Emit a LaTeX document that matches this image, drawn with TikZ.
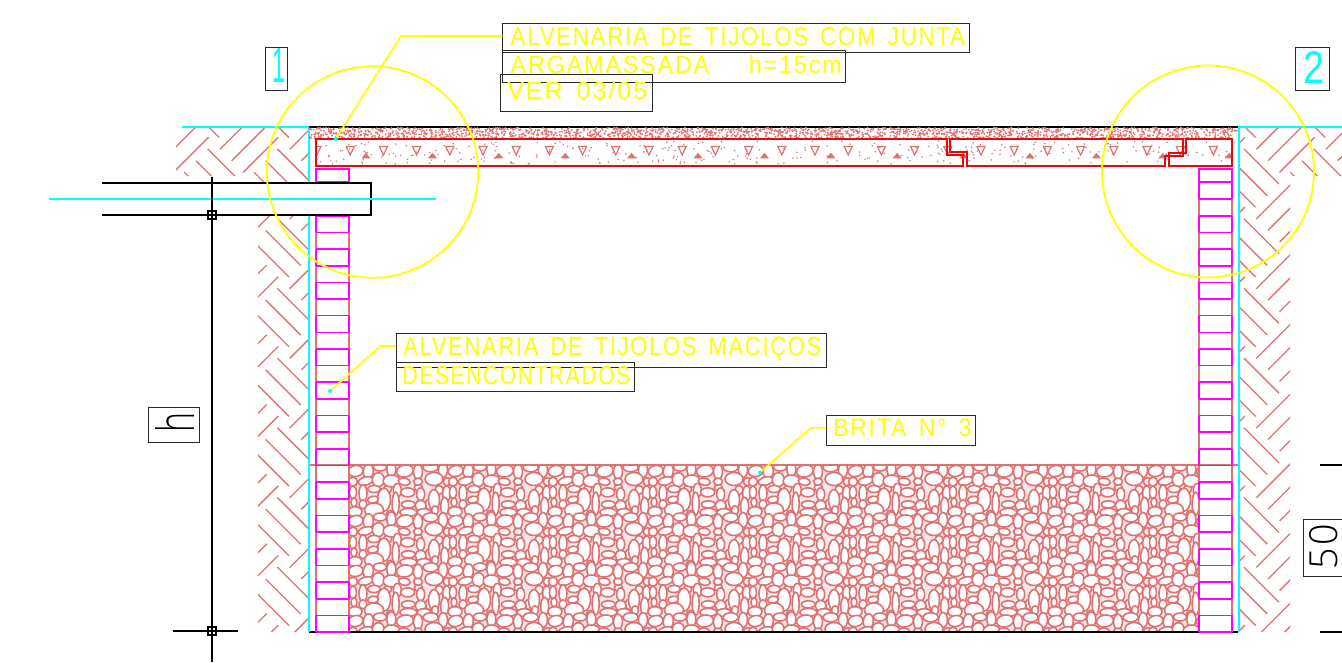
\documentclass[tikz,border=0pt]{standalone}
\usepackage{fontspec}
\usepackage{graphicx}
\newfontfamily\cadfont[LetterSpace=8]{Liberation Sans}
\newfontfamily\cadthin[LetterSpace=8]{Open Sans Light}
\definecolor{hatchc}{HTML}{DE7272}
\definecolor{meshc}{HTML}{FAE6E6}
\definecolor{cadyellow}{HTML}{FFFF00}
\definecolor{cadcyan}{HTML}{00FFFF}
\definecolor{cadmag}{HTML}{FF00FF}
\definecolor{cadred}{HTML}{E8090F}
\definecolor{boxc}{HTML}{2A2A2A}
\newcommand{\herringset}{%
  \foreach \ix in {-1,0,1,2}{\foreach \iy in {-2,...,8}{%
    \foreach \sx/\sy in {220/149.3,231.7/160.7,243.3/172.3}{%
      \draw[earth] ({\sx+\ix*69.7},{\sy+\iy*69.7}) -- ++(35,-35);}
    \foreach \sx/\sy in {207.7/149,196/160.7,184.3/172.3}{%
      \draw[earth] ({\sx+\ix*69.7},{\sy+\iy*69.7}) -- ++(35,35);}
  }}}
\newcommand{\brickwall}[1]{%
  \begin{scope}[shift={(#1,0)}]
  \foreach \k in {1,3,...,25}{%
    \draw[brickpale] (0,{632-16.65*\k}) -- (0,{632-16.65*(\k+1)}) (33,{632-16.65*\k}) -- (33,{632-16.65*(\k+1)});}
  \foreach \k in {0,2,...,26}{%
    \draw[brickside] (0,{632-16.65*\k}) -- (0,{632-16.65*(\k+1)}) (33,{632-16.65*\k}) -- (33,{632-16.65*(\k+1)});}
  \foreach \k in {0,...,27}{%
    \draw[brickside] (0,{632-16.65*\k}) -- (33,{632-16.65*\k});}
  \draw[brickside] (0,182) rectangle (33,169);
  \end{scope}}
\tikzset{
  earth/.style={hatchc,line width=1.3pt},
  brickside/.style={cadmag,line width=1.6pt},
  brickpale/.style={hatchc,line width=1.5pt},
  stone/.style={hatchc,line width=1.6pt},
  slabline/.style={cadred,line width=1.5pt},
  cyanline/.style={cadcyan,line width=1.7pt},
  blackline/.style={black,line width=1.5pt},
  ring/.style={circle,draw=cadyellow,line width=1.8pt,inner sep=0pt},
  leader/.style={cadyellow,line width=1.7pt},
  textbox/.style={draw=boxc,line width=1pt,anchor=north west,inner sep=0pt,rectangle},
  cadlabel/.style={anchor=base west,inner sep=0pt,outer sep=0pt,text=cadyellow},
  tipdot/.style={circle,fill=cadcyan,inner sep=0pt,minimum size=4pt},
}
\begin{document}
\begin{tikzpicture}[x=1pt,y=-1pt]
\useasboundingbox (0,0) rectangle (1342,662);
% earth hatching
\begin{scope}
  \clip (176,127) -- (309,127) -- (309,632) -- (258,632) -- (258,176) -- (176,176) -- cycle;
  \herringset
\end{scope}
\begin{scope}
  \clip (1240,127) -- (1342,127) -- (1342,176) -- (1290,176) -- (1290,632) -- (1240,632) -- cycle;
  \begin{scope}[shift={(1036.3,0)}]
  \herringset
  \end{scope}
\end{scope}
% gravel
\begin{scope}
  \clip (349,465) rectangle (1199,632);
  \fill[meshc] (349,465) rectangle (1199,632);
  \foreach \tx in {0,...,8}{\foreach \ty in {0,...,3}{%
    \begin{scope}[shift={({349+100*\tx},{465+50*\ty})}]
    \foreach \x/\y/\a/\b/\r in {
      243/118/10/11/0, 116/72/8/8/0, 208/68/8/7/0, 270/75/8/9/0,
      20/18/15/11/10, 58/19/10/15/-5, 93/6/13/8/0, 127/13/9/15/0, 168/18/17/12/10, 207/20/9/15/0, 245/7/15/9/0, 282/15/9/15/0,
      12/50/9/9/0, 50/48/15/8/15, 88/44/12/14/0, 128/48/17/12/0, 166/50/12/7/-10, 207/50/9/7/0, 255/42/18/13/0, 295/50/8/8/0,
      12/82/7/13/0, 42/85/8/17/0, 75/72/13/7/0, 105/104/13/23/0, 145/76/8/14/0, 176/82/14/9/0, 215/88/8/13/0, 255/105/11/21/0, 293/85/8/15/0,
      15/112/6/9/0, 42/118/8/9/0, 72/104/11/7/10, 75/135/19/14/0, 140/116/7/23/0, 178/118/14/7/0, 215/122/11/11/0, 287/124/8/18/0,
      18/140/14/10/0, 178/142/17/8/0, 225/143/14/8/0, 258/136/7/9/0, 125/145/8/6/0}{%
      \draw[stone,fill=white] ({\x/3},{\y/3}) ellipse [x radius={\a/3*1.5pt}, y radius={\b/3*1.5pt}, rotate=\r];}
    \end{scope}}}
\end{scope}
\draw[hatchc,line width=1.6pt] (309,465) -- (1238,465);
\draw[black,line width=1.4pt] (309,632) -- (1238,632);
% walls
\brickwall{316}
\brickwall{1199}
% cyan soil lines
\draw[cyanline] (182,127) -- (309,127) -- (309,632);
\draw[cyanline] (1342,127) -- (1238.7,127) -- (1238.7,632);
% slab: sand layer
\draw[black,line width=1.3pt] (309,127) -- (1238,127);
\pgfmathsetseed{11}
\foreach \i in {1,...,2000}{%
  \pgfmathsetmacro\px{309+929*rnd}\pgfmathsetmacro\py{127.5+11*rnd}%
  \fill[hatchc] (\px,\py) circle[radius=1pt];}
% slab: concrete fill
\begin{scope}
  \clip (316,139) rectangle (1232,166);
  \foreach \n in {0,...,27}{%
    \draw[hatchc,line width=1.2pt,line join=miter] ({317+33.2*\n-4},146.5) -- ++(8,0) -- ++(-4,8.5) -- cycle;}
  \foreach \n in {0,...,13}{%
    \fill[hatchc] ({366+66.4*\n-4.5},158.3) -- ++(9,0) -- ++(-4.5,-5.5) -- cycle;}
  \pgfmathsetseed{5}
  \foreach \i in {1,...,300}{%
    \pgfmathsetmacro\px{316+916*rnd}\pgfmathsetmacro\py{141+23*rnd}%
    \fill[hatchc] (\px,\py) circle[radius=0.85pt];}
\end{scope}
\draw[slabline] (947,139) -- (316,139) -- (316,166) -- (963,166) -- (963,155) -- (947,155) -- cycle;
\draw[slabline] (950,139) -- (950,152) -- (967,152) -- (967,166) -- (1165,166) -- (1165,156) -- (1183,156) -- (1183,139) -- cycle;
\draw[slabline] (1186,139) -- (1232,139) -- (1232,166) -- (1169,166) -- (1169,153) -- (1186,153) -- cycle;
% pipe
\fill[white] (102,183) rectangle (371,215);
\draw[blackline] (102,183) -- (371,183) -- (371,215) -- (102,215);
\draw[cyanline] (49,199) -- (436,199);
% dimension h
\draw[blackline] (212,177) -- (212,662);
\draw[blackline] (173,215) -- (238,215);
\draw[blackline] (173,631) -- (238,631);
\draw[black,line width=1.1pt] (208,211) rectangle (216,219);
\draw[black,line width=1.1pt] (208,627) rectangle (216,635);
\node[textbox,minimum width=50.7pt,minimum height=35.6pt] (boxh) at (148.3,406.7) {};
\node[anchor=base west,inner sep=0pt,rotate=90,text=black] (labh) at (194,433) {\resizebox{20pt}{39pt}{\cadthin h}};
% dimension 50
\draw[blackline] (1320,465) -- (1342,465);
\draw[blackline] (1320,632) -- (1342,632);
\node[textbox,minimum width=50pt,minimum height=56.7pt] (box50) at (1302.7,519) {};
\node[anchor=base west,inner sep=0pt,rotate=90,text=black] (lab50) at (1337,570) {\resizebox{46pt}{28pt}{\cadthin 50}};
% numbered tags
\node[textbox,minimum width=22pt,minimum height=43pt] (box1) at (265,47) {};
\node[cadlabel,text=cadcyan] (lab1) at (272,82) {\resizebox{13pt}{34pt}{\cadfont 1}};
\node[textbox,minimum width=34pt,minimum height=42.5pt] (box2) at (1295,47) {};
\node[cadlabel,text=cadcyan] (lab2) at (1303,83.3) {\resizebox{21pt}{32pt}{\cadfont 2}};
% detail circles
\node[ring,minimum size=211.5pt] (ring1) at (372.5,172) {};
\node[ring,minimum size=212pt] (ring2) at (1208,171.5) {};
% note boxes and texts
\node[textbox,minimum width=467pt,minimum height=29.6pt] (boxA) at (502.3,22.7) {};
\node[textbox,minimum width=342.2pt,minimum height=32pt] (boxB) at (502.3,49.7) {};
\node[textbox,minimum width=151.7pt,minimum height=37pt] (boxC) at (500.3,74) {};
\node[textbox,minimum width=430pt,minimum height=34.6pt] (boxD) at (396,332.7) {};
\node[textbox,minimum width=237.5pt,minimum height=29.3pt] (boxE) at (396,361.7) {};
\node[textbox,minimum width=149.3pt,minimum height=30pt] (boxF) at (825.7,415) {};
\node[cadlabel] (txtA) at (510.7,45.7) {\resizebox{454.3pt}{18pt}{\cadfont ALVENARIA\hspace{0.55em}DE\hspace{0.55em}TIJOLOS\hspace{0.55em}COM\hspace{0.55em}JUNTA}};
\node[cadlabel] (txtB) at (510.7,73.3) {\resizebox{331pt}{18pt}{\cadfont ARGAMASSADA\hspace{1.7em}h=15cm}};
\node[cadlabel] (txtC) at (507.3,99) {\resizebox{140pt}{18pt}{\cadfont VER\hspace{0.55em}03/05}};
\node[cadlabel] (txtD) at (403.3,355.7) {\resizebox{418pt}{18.4pt}{\cadfont ALVENARIA\hspace{0.55em}DE\hspace{0.55em}TIJOLOS\hspace{0.55em}MACIÇOS}};
\node[cadlabel] (txtE) at (402.7,384) {\resizebox{227.5pt}{18pt}{\cadfont DESENCONTRADOS}};
\node[cadlabel] (txtF) at (833.3,436.7) {\resizebox{138.4pt}{17.7pt}{\cadfont BRITA\hspace{0.55em}N°\hspace{0.55em}3}};
% leaders
\coordinate (bendA) at (401,36);
\coordinate (bendD) at (380.7,346);
\coordinate (bendF) at (811,427.7);
\coordinate (tipA) at (335.7,139);
\coordinate (tipD) at (330,391);
\coordinate (tipF) at (760,472.5);
\draw[leader] (boxA.west |- bendA) -- (bendA) -- (tipA);
\draw[leader] (boxD.west |- bendD) -- (bendD) -- (tipD);
\draw[leader] (boxF.west |- bendF) -- (bendF) -- (tipF);
\node[tipdot] (dotA) at (tipA) {};
\node[tipdot] (dotD) at (tipD) {};
\node[tipdot] (dotF) at (tipF) {};
\end{tikzpicture}
\end{document}
